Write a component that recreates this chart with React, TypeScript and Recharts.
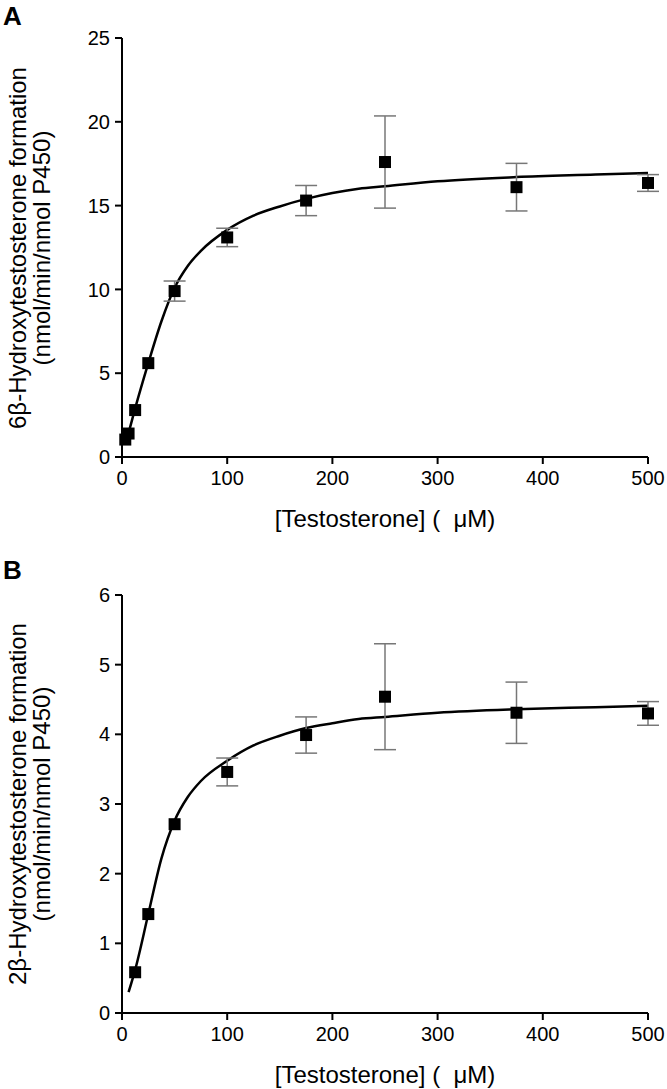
import React from "react";
import {
  ComposedChart,
  Line,
  Scatter,
  ErrorBar,
  XAxis,
  YAxis
} from "recharts";

// concentrations (uM) and measured rates, mean +/- SD
// (null = error bar hidden behind the symbol)
const concA = [3.125, 6.25, 12.5, 25, 50, 100, 175, 250, 375, 500];
const rateA = [1.04, 1.4, 2.8, 5.6, 9.9, 13.1, 15.3, 17.6, 16.1, 16.35];
const sdA = [null, null, null, null, 0.6, 0.55, 0.9, 2.75, 1.42, 0.5];

const concB = [12.5, 25, 50, 100, 175, 250, 375, 500];
const rateB = [0.585, 1.42, 2.71, 3.46, 3.99, 4.54, 4.31, 4.3];
const sdB = [null, null, null, 0.2, 0.26, 0.76, 0.44, 0.17];

// fitted curves
const fitXA = [3.125, 6.25, 12.5, 25, 37.5, 50, 62.5, 75, 100, 125, 150, 175, 200, 225, 250, 300, 375, 450, 500];
const fitYA = [0.8, 1.45, 2.9, 5.6, 8.1, 10.1, 11.4, 12.3, 13.55, 14.4, 14.95, 15.4, 15.75, 16.0, 16.15, 16.45, 16.7, 16.85, 16.95];
const fitXB = [6.25, 12.5, 25, 37.5, 50, 62.5, 75, 100, 125, 150, 175, 200, 225, 250, 300, 375, 450, 500];
const fitYB = [0.3, 0.62, 1.42, 2.22, 2.76, 3.1, 3.33, 3.62, 3.84, 3.98, 4.09, 4.16, 4.22, 4.25, 4.31, 4.36, 4.39, 4.41];

const xTicks = [0, 100, 200, 300, 400, 500];
const yTicksA = [0, 5, 10, 15, 20, 25];
const yTicksB = [0, 1, 2, 3, 4, 5, 6];

const font = "'Liberation Sans', Arial, Helvetica, sans-serif";

const toPoints = (xs: number[], ys: number[], errs?: (number | null)[]) =>
  xs.map((x, i) => ({ x, y: ys[i], err: errs ? errs[i] : null }));

const Square = (props: any) => (
  <rect x={props.cx - 6} y={props.cy - 6} width={12} height={12} fill="#000" />
);
const Nothing = () => <g />;

type PanelProps = {
  top: number;
  letter: string;
  letterTop: number;
  title: string;
  conc: number[];
  rate: number[];
  sd: (number | null)[];
  fitX: number[];
  fitY: number[];
  yTicks: number[];
  marginTop: number;
  xAxisHeight: number;
};

function Panel(p: PanelProps) {
  const height = 500;
  const points = toPoints(p.conc, p.rate, p.sd);
  const withErr = points.filter((pt) => pt.err != null);
  const fit = toPoints(p.fitX, p.fitY);
  const plotBottom = height - p.xAxisHeight;
  const yMid = p.top + (p.marginTop + plotBottom) / 2;
  const tick = { fill: "#000", fontSize: 20, fontFamily: font };
  const axisLine = { stroke: "#000", strokeWidth: 2 };

  return (
    <>
      <div
        style={{
          position: "absolute",
          left: 3,
          top: p.letterTop,
          fontFamily: font,
          fontWeight: "bold",
          fontSize: 26,
          lineHeight: "26px"
        }}
      >
        {p.letter}
      </div>
      <div
        style={{
          position: "absolute",
          left: 29.5 - 240,
          top: yMid - 24,
          width: 480,
          height: 48,
          transform: "rotate(-90deg)",
          textAlign: "center",
          fontFamily: font,
          fontSize: 24,
          lineHeight: "24px",
          color: "#000"
        }}
      >
        <div>{p.title}</div>
        <div>(nmol/min/nmol P450)</div>
      </div>
      <div
        style={{
          position: "absolute",
          left: 185,
          width: 400,
          top: p.top + plotBottom + 62 - 14,
          textAlign: "center",
          fontFamily: font,
          fontSize: 24,
          lineHeight: "28px",
          color: "#000",
          whiteSpace: "pre"
        }}
      >
        {"[Testosterone] (  μM)"}
      </div>
      <div style={{ position: "absolute", left: 0, top: p.top }}>
        <ComposedChart
          width={667}
          height={height}
          margin={{ top: p.marginTop, right: 19, bottom: 0, left: 0 }}
        >
          <XAxis
            dataKey="x"
            type="number"
            domain={[0, 500]}
            ticks={xTicks}
            height={p.xAxisHeight}
            tickSize={7}
            tickMargin={7}
            axisLine={axisLine}
            tickLine={axisLine}
            tick={tick}
          />
          <YAxis
            type="number"
            domain={[p.yTicks[0], p.yTicks[p.yTicks.length - 1]]}
            ticks={p.yTicks}
            width={122}
            tickSize={7}
            tickMargin={5}
            axisLine={axisLine}
            tickLine={axisLine}
            tick={tick}
          />
          <Line
            data={fit}
            dataKey="y"
            type="monotone"
            dot={false}
            stroke="#000"
            strokeWidth={2.5}
            isAnimationActive={false}
          />
          <Scatter data={withErr} dataKey="y" shape={Nothing} isAnimationActive={false}>
            <ErrorBar dataKey="err" direction="y" width={11} stroke="#777" strokeWidth={1.5} />
          </Scatter>
          <Scatter data={points} dataKey="y" shape={Square} isAnimationActive={false} />
        </ComposedChart>
      </div>
    </>
  );
}

export default function App() {
  return (
    <div
      style={{
        position: "absolute",
        left: 0,
        top: 0,
        width: 667,
        height: 1089,
        background: "#fff",
        overflow: "hidden"
      }}
    >
      <Panel
        top={0}
        letter="A"
        letterTop={3}
        title="6β-Hydroxytestosterone formation"
        conc={concA}
        rate={rateA}
        sd={sdA}
        fitX={fitXA}
        fitY={fitYA}
        yTicks={yTicksA}
        marginTop={38}
        xAxisHeight={43}
      />
      <Panel
        top={550}
        letter="B"
        letterTop={557}
        title="2β-Hydroxytestosterone formation"
        conc={concB}
        rate={rateB}
        sd={sdB}
        fitX={fitXB}
        fitY={fitYB}
        yTicks={yTicksB}
        marginTop={45}
        xAxisHeight={37}
      />
    </div>
  );
}
